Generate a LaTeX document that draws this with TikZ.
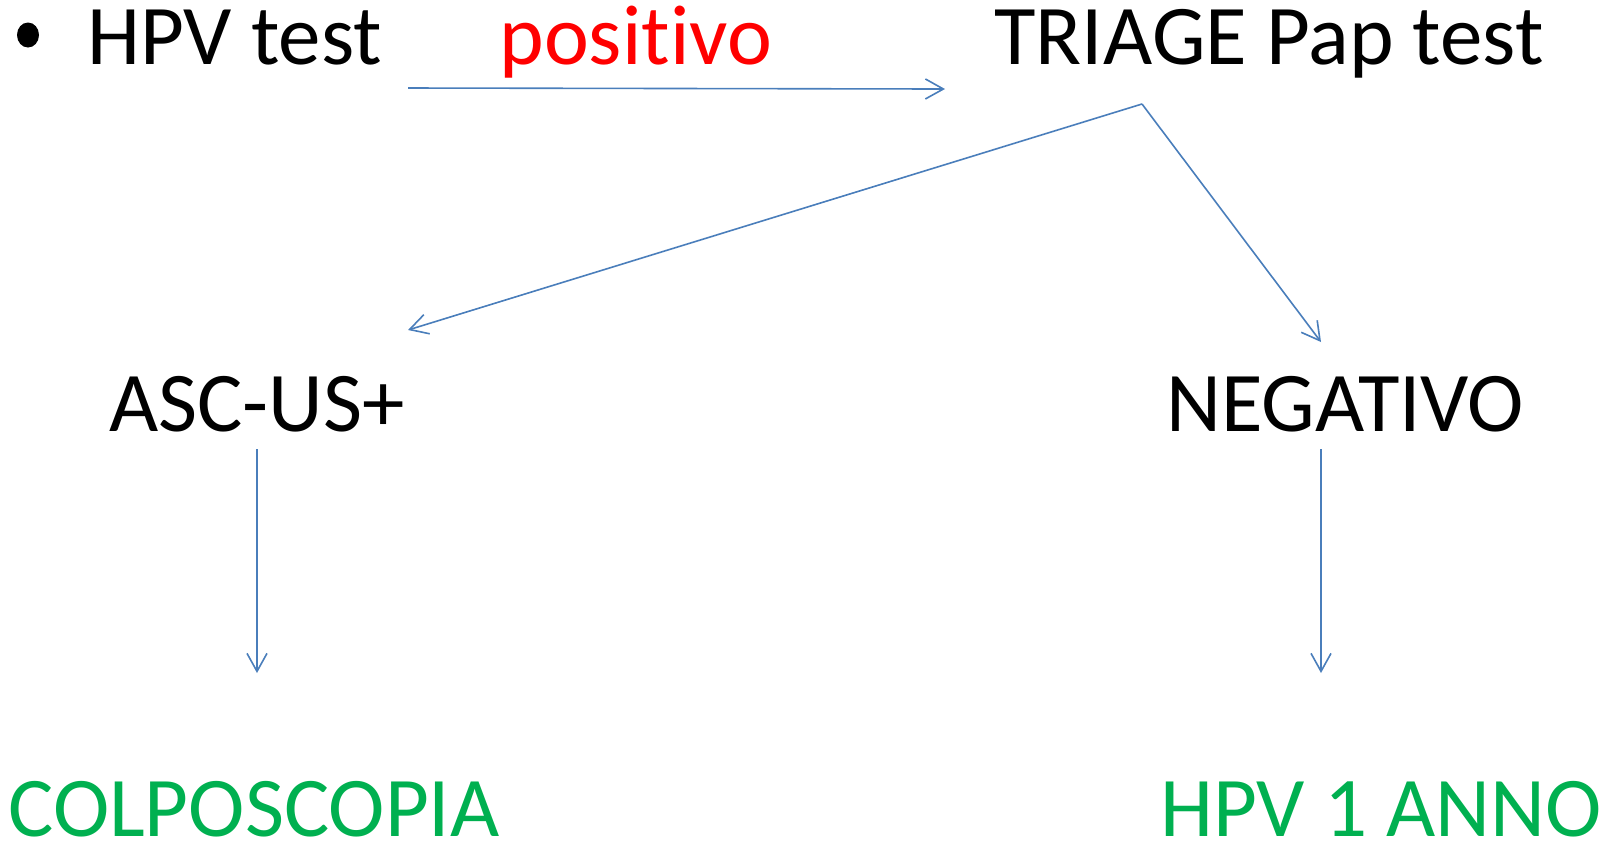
\documentclass[tikz,border=0pt]{standalone}
\usepackage{fontspec}
\setmainfont{Carlito}[Ligatures={NoCommon}]
\usetikzlibrary{arrows.meta,shapes.geometric}
\definecolor{lineblue}{HTML}{4A7EBB}
\definecolor{txtgreen}{HTML}{00B050}
\definecolor{txtred}{HTML}{FF0000}
\tikzset{
  lbl/.style={anchor=base west, inner sep=0pt, font=\fontsize{42.5pt}{50pt}\selectfont},
  conn/.style={draw=lineblue, line width=0.8pt, -{Straight Barb[length=9pt,width=10pt,line width=0.8pt]}},
}
\begin{document}
\begin{tikzpicture}[x=0.5pt,y=-0.5pt]
\useasboundingbox (0,0) rectangle (1610,843);
\node[ellipse, fill=black, inner sep=0pt, minimum width=11pt, minimum height=12.5pt] (bullet) at (28,35) {};
\node[lbl] (hpv) at (87,64) {HPV test};
\node[lbl, text=txtred] (pos) at (499,64) {positivo};
\node[lbl] (triage) at (994,64) {TRIAGE Pap test};
\node[lbl] (asc) at (109,431) {ASC-US+};
\node[lbl] (neg) at (1166,431) {NEGATIVO};
\node[lbl, text=txtgreen] (colpo) at (8,836) {COLPOSCOPIA};
\node[lbl, text=txtgreen] (hpv1) at (1160,836) {HPV 1 ANNO};
\coordinate (a1s) at (408,88);
\coordinate (a1e) at (945,89);
\coordinate (apex) at (1142,104);
\coordinate (ascin) at (408,330);
\coordinate (negin) at (1321,342);
\coordinate (ascout) at (257,449);
\coordinate (colpoin) at (257,673);
\coordinate (negout) at (1321,449);
\coordinate (hpv1in) at (1321,673);
\draw[conn] (a1s) -- (a1e);
\draw[conn] (apex) -- (ascin);
\draw[conn] (apex) -- (negin);
\draw[conn] (ascout) -- (colpoin);
\draw[conn] (negout) -- (hpv1in);
\end{tikzpicture}
\end{document}
